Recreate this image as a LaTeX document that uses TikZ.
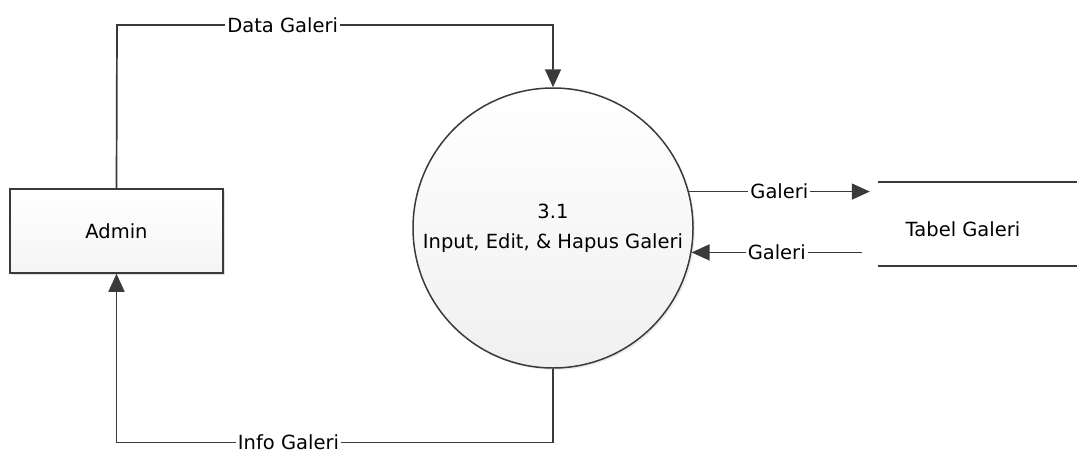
\documentclass[tikz,border=0pt]{standalone}
\usepackage{fontspec}
\setmainfont{DejaVu Sans}
\usetikzlibrary{arrows.meta,shadows}
\definecolor{ln}{HTML}{3a3a3a}
\begin{document}
\begin{tikzpicture}[x=1pt,y=-1pt,
  every node/.style={font=\fontsize{19.5}{30}\selectfont, text=black},
  conn/.style={draw=ln, line width=1.7pt},
  flow/.style={conn, -{Triangle[length=18pt,width=16pt]}},
  lbl/.style={fill=white, inner xsep=2pt, inner ysep=0.5pt},
  entity/.style={draw=ln, line width=1.5pt, minimum width=213pt, minimum height=84pt,
    top color=white, bottom color=gray!8,
    drop shadow={opacity=0.25, shadow xshift=2pt, shadow yshift=-2pt}},
  process/.style={circle, draw=ln, line width=1.5pt, minimum size=280pt, inner sep=0pt,
    top color=white, bottom color=gray!12, align=center,
    drop shadow={opacity=0.15, shadow xshift=2pt, shadow yshift=-2pt}},
  storebox/.style={minimum width=199pt, minimum height=84pt, inner sep=0pt},
  storeline/.style={draw=ln, line width=1.5pt}
]
\useasboundingbox (0,0) rectangle (1077,453);

\node[entity] (admin) at (116.5,231) {Admin};
\node[process] (proc) at (553,228) {3.1\\Input, Edit, \& Hapus Galeri};
\node[storebox] (store) at (977.5,224) {};
\node (storetxt) at ([xshift=-14.5pt,yshift=-5pt]store.center) {Tabel Galeri};
\draw[storeline] (store.north west) -- (store.north east);
\draw[storeline] (store.south west) -- (store.south east);

\coordinate (t1) at (117,25);
\coordinate (t2) at (553,25);
\draw[flow] (admin.north) -- (t1) -- node[lbl, pos=0.38] {Data Galeri} (t2) -- (proc.north);

\coordinate (b1) at (553,442.5);
\coordinate (b2) at (116.5,442.5);
\draw[flow] (proc.south) -- (b1) -- node[lbl, pos=0.606] {Info Galeri} (b2) -- (admin.south);

\draw[flow] (proc.15) -- node[lbl] {Galeri} ([xshift=-8pt]store.west |- proc.15);
\draw[flow] ([xshift=-16pt]store.west |- proc.-10) -- node[lbl] {Galeri} (proc.-10);
\end{tikzpicture}
\end{document}
